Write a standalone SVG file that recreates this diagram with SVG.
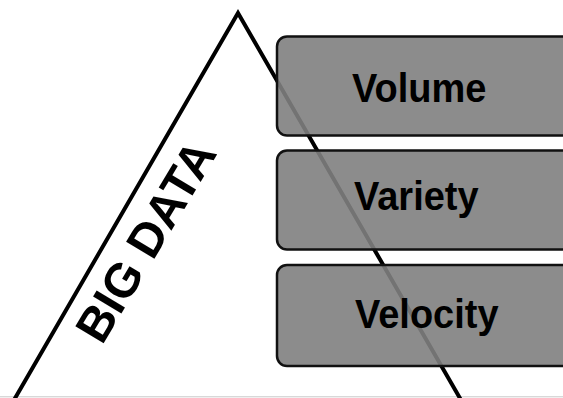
<svg xmlns="http://www.w3.org/2000/svg" width="563" height="398" viewBox="0 0 563 398">
<style>
.tri{fill:none;stroke:#000;stroke-width:4;stroke-linejoin:miter}
.box{fill:#808080;fill-opacity:0.9;stroke:#111;stroke-width:2.5}
.lbl{font-family:"Liberation Sans",Arial,sans-serif;font-weight:bold;font-size:38px;fill:#000}
.big{font-family:"Liberation Sans",Arial,sans-serif;font-weight:bold;font-size:48px;fill:#000}
</style>
<rect width="563" height="398" fill="#fff"/>
<g id="pyramid">
<line x1="0" y1="396.8" x2="563" y2="396.8" stroke="#c8c8c8" stroke-width="1"/>
<polyline class="tri" points="14,400 238,13 461,400"/>
<text class="big" transform="translate(102,346) rotate(-59)">BIG DATA</text>
</g>
<g id="connectors"></g>
<g id="volume">
<rect class="box" x="277" y="36.5" width="300" height="99" rx="10"/>
<text class="lbl" transform="translate(352,102) scale(1,1.08)">Volume</text>
</g>
<g id="variety">
<rect class="box" x="277" y="150.5" width="300" height="99" rx="10"/>
<text class="lbl" transform="translate(354,210) scale(1,1.08)">Variety</text>
</g>
<g id="velocity">
<rect class="box" x="277" y="265" width="300" height="101" rx="10"/>
<text class="lbl" transform="translate(355,328) scale(1,1.08)">Velocity</text>
</g>
</svg>
